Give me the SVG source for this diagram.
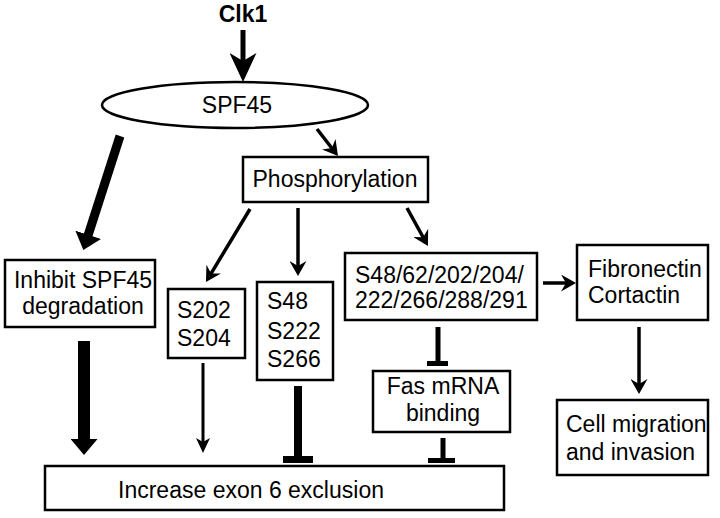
<svg xmlns="http://www.w3.org/2000/svg" width="720" height="518" viewBox="0 0 720 518">
<style>
  .box{fill:#fff;stroke:#000;stroke-width:2.5}
  .t{font-family:"Liberation Sans",Arial,sans-serif;font-size:23px;fill:#000}
  .c{text-anchor:middle}
  .ln{stroke:#000;fill:none;stroke-linecap:butt}
</style>
<defs>
  <marker id="hm" viewBox="0 0 15 17" markerWidth="15" markerHeight="17" refX="7" refY="8.5" orient="auto" markerUnits="userSpaceOnUse"><path d="M0,0 L15,8.5 L0,17 L5,8.5 z" fill="#000"/></marker>
  <marker id="hl" viewBox="0 0 29 27" markerWidth="29" markerHeight="27" refX="10" refY="13.5" orient="auto" markerUnits="userSpaceOnUse"><path d="M0,0 L29,13.5 L0,27 L8,13.5 z" fill="#000"/></marker>
  <marker id="ht" viewBox="0 0 16 27" markerWidth="16" markerHeight="27" refX="4" refY="13.5" orient="auto" markerUnits="userSpaceOnUse"><path d="M0,0 L16,13.5 L0,27 z" fill="#000"/></marker>
  <marker id="hs" viewBox="0 0 15 14" markerWidth="15" markerHeight="14" refX="5" refY="7" orient="auto" markerUnits="userSpaceOnUse"><path d="M0,0 L15,7 L0,14 L4,7 z" fill="#000"/></marker>
</defs>

<g id="connectors">
  <line class="ln" x1="243" y1="30" x2="243" y2="63" stroke-width="5" marker-end="url(#hl)"/>
  <line class="ln" x1="317" y1="129" x2="333.1" y2="149.7" stroke-width="3.5" marker-end="url(#hm)"/>
  <line class="ln" x1="120" y1="136" x2="87" y2="238.6" stroke-width="9" marker-end="url(#ht)"/>
  <line class="ln" x1="250" y1="209" x2="210.1" y2="275.1" stroke-width="3.5" marker-end="url(#hm)"/>
  <line class="ln" x1="298" y1="208" x2="298" y2="268" stroke-width="3.5" marker-end="url(#hm)"/>
  <line class="ln" x1="407" y1="208" x2="424.1" y2="239" stroke-width="3.5" marker-end="url(#hm)"/>
  <line class="ln" x1="543" y1="283" x2="568" y2="283" stroke-width="3.5" marker-end="url(#hm)"/>
  <line class="ln" x1="639" y1="327" x2="639" y2="386" stroke-width="3.5" marker-end="url(#hm)"/>
  <line class="ln" x1="84" y1="341" x2="84" y2="443" stroke-width="12" marker-end="url(#ht)"/>
  <line class="ln" x1="203" y1="363" x2="203" y2="443" stroke-width="3" marker-end="url(#hs)"/>
  <line class="ln" x1="298" y1="386" x2="298" y2="457" stroke-width="8"/>
  <rect x="283" y="456" width="30" height="7" fill="#000"/>
  <line class="ln" x1="438" y1="327" x2="438" y2="362" stroke-width="5"/>
  <rect x="427" y="361" width="21" height="5" fill="#000"/>
  <line class="ln" x1="443" y1="438" x2="443" y2="459" stroke-width="5"/>
  <rect x="428" y="458" width="27" height="5" fill="#000"/>
</g>

<g id="clk1"><text class="t c" x="243" y="22" font-weight="bold" font-size="22">Clk1</text></g>
<g id="spf45"><ellipse cx="235" cy="105" rx="133" ry="23" class="box"/><text class="t c" x="237" y="113">SPF45</text></g>
<g id="phosphorylation"><rect class="box" x="243" y="157" width="185" height="45"/><text class="t c" x="335" y="187">Phosphorylation</text></g>
<g id="inhibit"><rect class="box" x="5" y="260" width="150" height="67"/><text class="t c" x="83" y="288">Inhibit SPF45</text><text class="t c" x="83" y="314">degradation</text></g>
<g id="s202"><rect class="box" x="168" y="289" width="77" height="69"/><text class="t" x="177" y="318">S202</text><text class="t" x="177" y="346">S204</text></g>
<g id="s48"><rect class="box" x="257" y="282" width="76" height="98"/><text class="t" x="267" y="309">S48</text><text class="t" x="267" y="339">S222</text><text class="t" x="267" y="367">S266</text></g>
<g id="s48multi"><rect class="box" x="345" y="253" width="192" height="67"/><text class="t" x="355" y="283">S48/62/202/204/</text><text class="t" x="355" y="308">222/266/288/291</text></g>
<g id="fibronectin"><rect class="box" x="577" y="245" width="131" height="75"/><text class="t" x="588" y="277">Fibronectin</text><text class="t" x="588" y="303">Cortactin</text></g>
<g id="fas"><rect class="box" x="373" y="371" width="137" height="61"/><text class="t c" x="443" y="394">Fas mRNA</text><text class="t c" x="443" y="421">binding</text></g>
<g id="cell"><rect class="box" x="557" y="400" width="151" height="75"/><text class="t" x="566" y="432">Cell migration</text><text class="t" x="566" y="460">and invasion</text></g>
<g id="increase"><rect class="box" x="45" y="466" width="459" height="44"/><text class="t c" x="251" y="498">Increase exon 6 exclusion</text></g>
</svg>
